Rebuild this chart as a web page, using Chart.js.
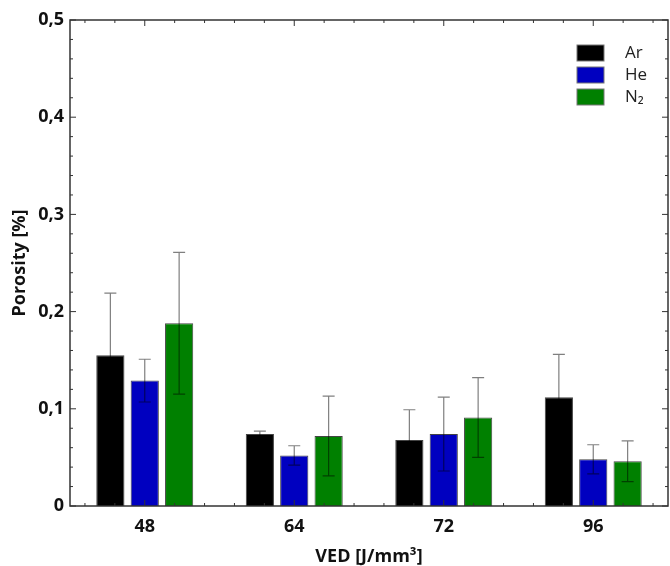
<!DOCTYPE html>
<html>
<head>
<meta charset="utf-8">
<script src="https://cdn.jsdelivr.net/npm/chart.js@4/dist/chart.umd.min.js"></script>
<style>
  html, body { margin: 0; padding: 0; background: #fff; }
  #wrap { width: 670px; height: 566px; }
</style>
</head>
<body>
<div id="wrap"><canvas id="chartPorosity"></canvas></div>
<script>
// VED categories and porosity per gas
const categories = ['48', '64', '72', '96'];
const gasLabels  = ['Ar', 'He', 'N₂'];
const valuesAr   = [0.155, 0.074, 0.068, 0.112];
const valuesHe   = [0.129, 0.052, 0.074, 0.048];
const valuesN2   = [0.188, 0.072, 0.091, 0.046];
const errAr      = [0.064, 0.003, 0.031, 0.044];
const errHe      = [0.022, 0.010, 0.038, 0.015];
const errN2      = [0.073, 0.041, 0.041, 0.021];
const yTicks     = [0, 0.1, 0.2, 0.3, 0.4, 0.5];

const FONT = "'Open Sans', 'DejaVu Sans', sans-serif";

// error bars, drawn on top of the bars
const errorBars = {
  id: 'errorBars',
  afterDatasetsDraw(chart) {
    const { ctx } = chart;
    const y = chart.scales.y;
    chart.data.datasets.forEach((ds, i) => {
      const meta = chart.getDatasetMeta(i);
      meta.data.forEach((bar, j) => {
        const v = ds.data[j], e = ds.errors[j];
        const yTop = y.getPixelForValue(v + e);
        const yBot = y.getPixelForValue(v - e);
        ctx.save();
        ctx.strokeStyle = 'rgba(0,0,0,0.5)';
        ctx.lineWidth = 1.2;
        ctx.beginPath();
        ctx.moveTo(bar.x, yTop); ctx.lineTo(bar.x, yBot);
        ctx.moveTo(bar.x - 6, yTop); ctx.lineTo(bar.x + 6, yTop);
        ctx.moveTo(bar.x - 6, yBot); ctx.lineTo(bar.x + 6, yBot);
        ctx.stroke();
        ctx.restore();
      });
    });
  }
};

// box frame with inward ticks on all four sides
const frameTicks = {
  id: 'frameTicks',
  afterDatasetsDraw(chart) {
    const { ctx, chartArea: a } = chart;
    const x = chart.scales.x, y = chart.scales.y;
    ctx.save();
    ctx.strokeStyle = '#333';
    ctx.lineWidth = 1.5;
    ctx.strokeRect(a.left, a.top, a.right - a.left, a.bottom - a.top);
    ctx.lineWidth = 1;
    ctx.beginPath();
    // y: major every 0.1, minor every 0.02
    for (let k = 0; k <= 25; k++) {
      const py = y.getPixelForValue(k * 0.02);
      const len = k % 5 === 0 ? 6 : 3;
      ctx.moveTo(a.left, py);  ctx.lineTo(a.left + len, py);
      ctx.moveTo(a.right, py); ctx.lineTo(a.right - len, py);
    }
    // x: major at category centres, minor every fifth of a category
    for (let k = -2; k <= 17; k++) {
      const px = x.getPixelForValue(k * 0.2);
      const len = k % 5 === 0 ? 6 : 3;
      ctx.moveTo(px, a.bottom); ctx.lineTo(px, a.bottom - len);
      ctx.moveTo(px, a.top);    ctx.lineTo(px, a.top + len);
    }
    ctx.stroke();
    ctx.restore();
  }
};

// legend in the upper right corner, inside the plot
const cornerLegend = {
  id: 'cornerLegend',
  afterDraw(chart) {
    const { ctx, chartArea: a } = chart;
    ctx.save();
    chart.data.datasets.forEach((ds, i) => {
      const cy = a.top + 33 + i * 22;
      ctx.fillStyle = ds.backgroundColor;
      ctx.fillRect(a.right - 91, cy - 8, 27, 16);
      ctx.strokeStyle = '#777';
      ctx.lineWidth = 1;
      ctx.strokeRect(a.right - 91, cy - 8, 27, 16);
      ctx.fillStyle = '#222';
      ctx.font = `17px ${FONT}`;
      ctx.textBaseline = 'middle';
      ctx.fillText(ds.label, a.right - 43, cy);
    });
    ctx.restore();
  }
};

function makeDataset(label, data, errors, color) {
  return {
    label, data, errors,
    backgroundColor: color,
    borderColor: '#444',
    borderWidth: 1,
    borderSkipped: 'bottom',
    categoryPercentage: 0.69,
    barPercentage: 0.82,
  };
}

new Chart(document.getElementById('chartPorosity'), {
  type: 'bar',
  data: {
    labels: categories,
    datasets: [
      makeDataset(gasLabels[0], valuesAr, errAr, '#000000'),
      makeDataset(gasLabels[1], valuesHe, errHe, '#0000C0'),
      makeDataset(gasLabels[2], valuesN2, errN2, '#008000'),
    ],
  },
  options: {
    responsive: true,
    maintainAspectRatio: false,
    animation: false,
    layout: { padding: { top: 20, right: 2, left: 0, bottom: 0 } },
    plugins: {
      legend: { display: false },
      tooltip: { enabled: false },
    },
    scales: {
      x: {
        grid: { display: false, drawTicks: false },
        border: { display: false },
        ticks: { color: '#111', font: { family: FONT, size: 18, weight: 'bold' }, padding: 10 },
        title: {
          display: true, text: 'VED [J/mm³]', color: '#111',
          font: { family: FONT, size: 18, weight: 'bold', lineHeight: 1 }, padding: { top: 0, bottom: 0 },
        },
        afterFit(scale) { scale.height = 60; },
      },
      y: {
        min: 0, max: 0.5,
        grid: { display: false, drawTicks: false },
        border: { display: false },
        afterBuildTicks(scale) { scale.ticks = yTicks.map(v => ({ value: v })); },
        ticks: {
          color: '#111', padding: 6,
          font: { family: FONT, size: 18, weight: 'bold' },
          callback: v => (v === 0 ? '0' : v.toFixed(1).replace('.', ',')),
        },
        title: {
          display: true, text: 'Porosity [%]', color: '#111',
          font: { family: FONT, size: 18, weight: 'bold', lineHeight: 1 }, padding: { top: 11, bottom: 0 },
        },
        afterFit(scale) { scale.width = 70; },
      },
    },
  },
  plugins: [errorBars, frameTicks, cornerLegend],
});
</script>
</body>
</html>
